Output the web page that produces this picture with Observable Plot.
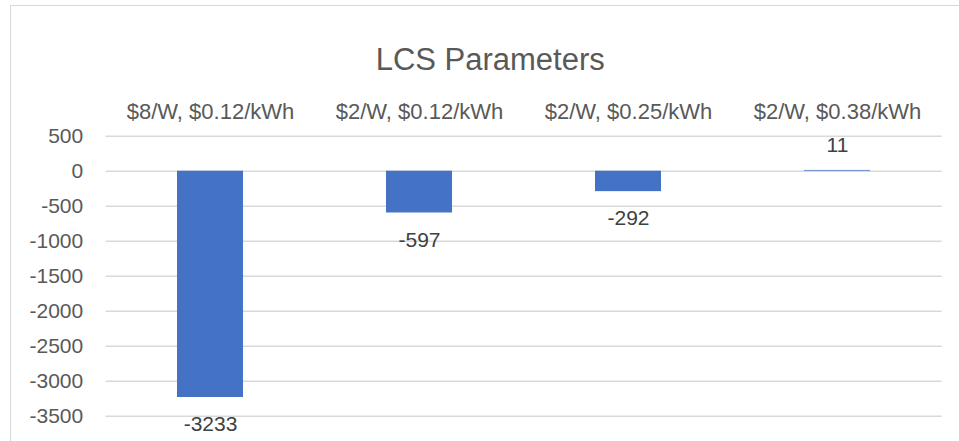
<!DOCTYPE html>
<html>
<head>
<meta charset="utf-8">
<script src="https://cdn.jsdelivr.net/npm/d3@7"></script>
<script src="https://cdn.jsdelivr.net/npm/@observablehq/plot@0.6"></script>
<style>
  html, body { margin: 0; padding: 0; background: #fff; overflow: hidden; width: 959px; height: 441px; }
  #frame { position: absolute; left: 10px; top: 5px; width: 1100px; height: 600px; border: 1.5px solid #d9d9d9; box-sizing: border-box; }
  #chart { position: absolute; left: 0; top: 0; }
  svg { font-family: "Liberation Sans", Arial, sans-serif; }
</style>
</head>
<body>
<div id="frame"></div>
<div id="chart"></div>
<script>
const title = "LCS Parameters";
const categories = ["$8/W, $0.12/kWh", "$2/W, $0.12/kWh", "$2/W, $0.25/kWh", "$2/W, $0.38/kWh"];
const values = [-3233, -597, -292, 11];
const yTicks = [500, 0, -500, -1000, -1500, -2000, -2500, -3000, -3500];

const data = categories.map((c, i) => ({cat: c, value: values[i]}));

const chart = Plot.plot({
  width: 959,
  height: 441,
  marginLeft: 105.7,
  marginRight: 17.3,
  marginTop: 135.7,
  marginBottom: 25.3,
  style: {background: "transparent", overflow: "visible"},
  x: {domain: categories, paddingInner: 0.684, paddingOuter: 0.342, align: 0.5, axis: null},
  y: {domain: [-3500, 500], axis: null, label: null},
  marks: [
    Plot.gridY(yTicks, {stroke: "#d9d9d9", strokeOpacity: 1, strokeWidth: 1.5}),
    Plot.axisY(yTicks, {label: null, tickSize: 0, tickPadding: 23, fontSize: 21, fill: "#595959", tickFormat: d => String(d)}),
    Plot.barY(data, {x: "cat", y: "value", fill: "#4472C4"}),
    Plot.text(data.filter(d => d.value < 0), {x: "cat", y: "value", text: d => String(d.value), dy: 27, fontSize: 21, fill: "#404040"}),
    Plot.text(data.filter(d => d.value >= 0), {x: "cat", y: "value", text: d => String(d.value), dy: -25, fontSize: 21, fill: "#404040"}),
    Plot.text(categories, {x: d => d, frameAnchor: "top", dy: -33, fontSize: 22, fill: "#595959"}),
    Plot.text([title], {frameAnchor: "top", dy: -88, dx: -34, fontSize: 31, fill: "#595959"})
  ]
});
document.getElementById("chart").appendChild(chart);
</script>
</body>
</html>
